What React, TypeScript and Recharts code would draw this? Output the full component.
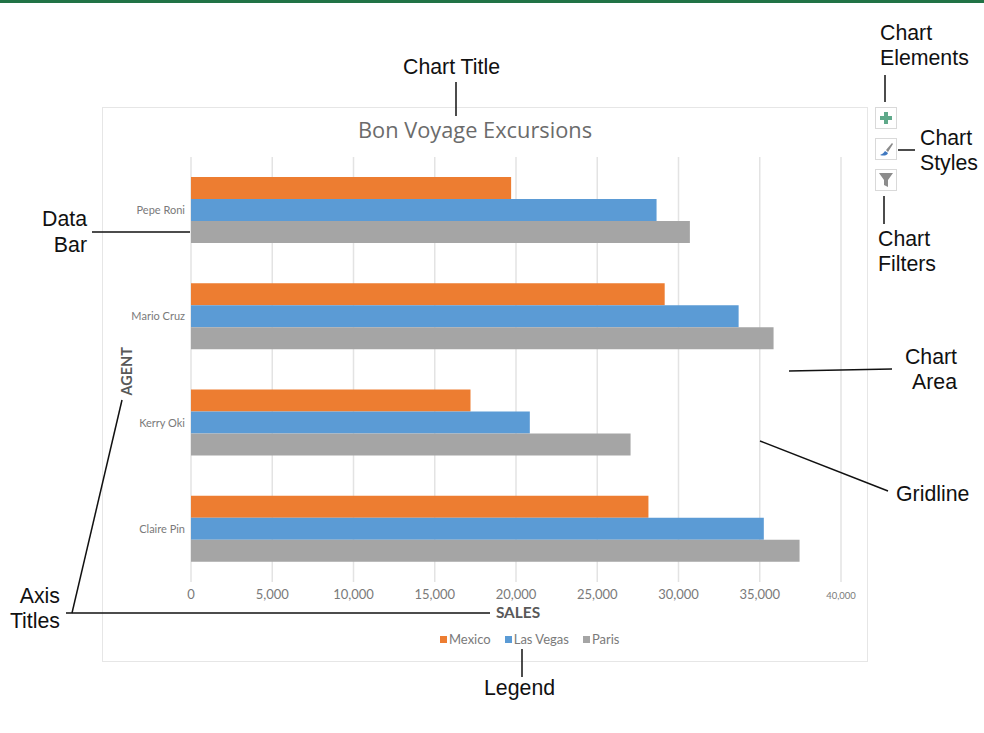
import { BarChart, Bar, XAxis, YAxis, CartesianGrid, Legend } from 'recharts';

const agents = ['Pepe Roni', 'Mario Cruz', 'Kerry Oki', 'Claire Pin'];
const mexico = [19700, 29150, 17200, 28150];
const lasVegas = [28650, 33700, 20850, 35250];
const paris = [30700, 35850, 27050, 37450];
const salesTicks = [0, 5000, 10000, 15000, 20000, 25000, 30000, 35000, 40000];

const data = agents.map((agent, i) => ({
  agent,
  Mexico: mexico[i],
  'Las Vegas': lasVegas[i],
  Paris: paris[i],
}));

const COLORS = {
  mexico: '#ED7D31',
  lasVegas: '#5B9BD5',
  paris: '#A5A5A5',
  grid: '#E3E3E3',
  frame: '#E6E6E6',
  tick: '#7A7A7A',
  axisTitle: '#595959',
  banner: '#217346',
  callout: '#111111',
};

const LABEL_FONT = '"Liberation Sans", Arial, sans-serif';
const CHART_FONT = 'Lato, "Open Sans", sans-serif';

function SalesTick({ x, y, payload }: any) {
  // last tick is smaller in the original screenshot
  const last = payload.value === 40000;
  return (
    <text
      x={x}
      y={y + 9}
      textAnchor="middle"
      fontFamily={CHART_FONT}
      fontSize={last ? 9.5 : 13}
      fill={COLORS.tick}
    >
      {payload.value.toLocaleString('en-US')}
    </text>
  );
}

function AgentTick({ x, y, payload }: any) {
  return (
    <text x={x + 2} y={y + 4} textAnchor="end" fontFamily={CHART_FONT} fontSize={11} fill={COLORS.tick}>
      {payload.value}
    </text>
  );
}

function LegendRow({ payload }: any) {
  return (
    <div style={{ display: 'flex', gap: 14, fontFamily: CHART_FONT, fontSize: 13, color: COLORS.tick, lineHeight: '16px' }}>
      {(payload ?? []).map((item: any) => (
        <span key={item.value} style={{ display: 'flex', alignItems: 'center', gap: 2 }}>
          <span style={{ width: 7, height: 7, background: item.color, display: 'inline-block' }} />
          {item.value}
        </span>
      ))}
    </div>
  );
}

function Callouts() {
  const text = { fontFamily: LABEL_FONT, fontSize: 21.3, fill: COLORS.callout };
  const line = { stroke: COLORS.callout, strokeWidth: 1.5 };
  return (
    <svg width={984} height={733} style={{ position: 'absolute', left: 0, top: 0 }}>
      <text x={403} y={74} {...text}>Chart Title</text>
      <line x1={456} y1={82} x2={456} y2={116} {...line} />

      <text x={880} y={40} {...text}>Chart</text>
      <text x={880} y={65} {...text}>Elements</text>
      <line x1={885} y1={75} x2={885} y2={102} {...line} />

      <text x={920} y={145} {...text}>Chart</text>
      <text x={920} y={170} {...text}>Styles</text>
      <line x1={898} y1={150} x2={915} y2={150} {...line} />

      <text x={878} y={246} {...text}>Chart</text>
      <text x={878} y={271} {...text}>Filters</text>
      <line x1={884} y1={196} x2={884} y2={224} {...line} />

      <text x={87} y={226} textAnchor="end" {...text}>Data</text>
      <text x={87} y={252} textAnchor="end" {...text}>Bar</text>
      <line x1={92} y1={232} x2={190} y2={232} {...line} />

      <text x={957} y={364} textAnchor="end" {...text}>Chart</text>
      <text x={957} y={389} textAnchor="end" {...text}>Area</text>
      <line x1={789} y1={371} x2={892} y2={369} {...line} />

      <text x={896} y={501} {...text}>Gridline</text>
      <line x1={760} y1={441} x2={888} y2={491} {...line} />

      <text x={60} y={603} textAnchor="end" {...text}>Axis</text>
      <text x={60} y={628} textAnchor="end" {...text}>Titles</text>
      <line x1={66} y1={613} x2={490} y2={613} {...line} />
      <line x1={72} y1={613} x2={122} y2={400} {...line} />

      <text x={484} y={695} {...text}>Legend</text>
      <line x1={522} y1={649} x2={522} y2={677} {...line} />

      {/* chart buttons */}
      <rect x={875.5} y={107.5} width={21} height={21} fill="#fff" stroke="#D9D9D9" />
      <path d="M884 112h4v4h4v4h-4v4h-4v-4h-4v-4h4z" fill="#5FA98A" />
      <rect x={875.5} y={138.5} width={21} height={21} fill="#fff" stroke="#D9D9D9" />
      <path d="M892 143l-6 7 2 2 5-8z" fill="#8A8A8A" />
      <path d="M885 151l3 2c-1 3-5 3-8 2 2-1 4-2 5-4z" fill="#3F78C0" />
      <rect x={875.5} y={169.5} width={21} height={21} fill="#fff" stroke="#D9D9D9" />
      <path d="M879 173h14l-5 7v7l-4-2v-5z" fill="#8C8C8C" />
    </svg>
  );
}

export default function App() {
  return (
    <div style={{ position: 'absolute', left: 0, top: 0, width: 984, height: 733, background: '#fff', overflow: 'hidden' }}>
      <div style={{ position: 'absolute', left: 0, top: 0, width: 984, height: 3, background: COLORS.banner }} />
      <div
        style={{
          position: 'absolute',
          left: 102,
          top: 107,
          width: 764,
          height: 553,
          border: `1.5px solid ${COLORS.frame}`,
        }}
      />
      <div
        style={{
          position: 'absolute',
          left: 102,
          width: 746,
          top: 116,
          textAlign: 'center',
          fontFamily: '"Open Sans", sans-serif',
          fontSize: 21.8,
          lineHeight: '28px',
          color: '#6B6B6B',
        }}
      >
        Bon Voyage Excursions
      </div>
      <div style={{ position: 'absolute', left: 0, top: 0 }}>
        <BarChart
          width={984}
          height={733}
          data={data}
          layout="vertical"
          margin={{ top: 157, right: 143, bottom: 111, left: 101 }}
          barCategoryGap={20}
          barGap={0}
        >
          <CartesianGrid horizontal={false} stroke={COLORS.grid} strokeWidth={1.5} />
          <XAxis
            type="number"
            domain={[0, 40000]}
            ticks={salesTicks}
            interval={0}
            height={40}
            axisLine={false}
            tickLine={false}
            tick={<SalesTick />}
            label={{
              value: 'SALES',
              position: 'insideBottom',
              offset: 4,
              dx: 2,
              style: { fontFamily: CHART_FONT, fontSize: 15.4, fontWeight: 700, fill: COLORS.axisTitle },
            }}
          />
          <YAxis
            type="category"
            dataKey="agent"
            width={90}
            axisLine={false}
            tickLine={false}
            tick={<AgentTick />}
            label={{
              value: 'AGENT',
              angle: -90,
              position: 'insideLeft',
              offset: 26,
              dy: 26,
              style: { fontFamily: CHART_FONT, fontSize: 14.5, fontWeight: 700, fill: COLORS.axisTitle },
            }}
          />
          {/* center + middle keeps the legend from eating into the plot area */}
          <Legend
            layout="horizontal"
            align="center"
            verticalAlign="middle"
            itemSorter={null}
            content={<LegendRow />}
            wrapperStyle={{ position: 'absolute', left: 440, top: 631, width: 220 }}
          />
          <Bar dataKey="Mexico" fill={COLORS.mexico} isAnimationActive={false} />
          <Bar dataKey="Las Vegas" fill={COLORS.lasVegas} isAnimationActive={false} />
          <Bar dataKey="Paris" fill={COLORS.paris} isAnimationActive={false} />
        </BarChart>
      </div>
      <Callouts />
    </div>
  );
}
